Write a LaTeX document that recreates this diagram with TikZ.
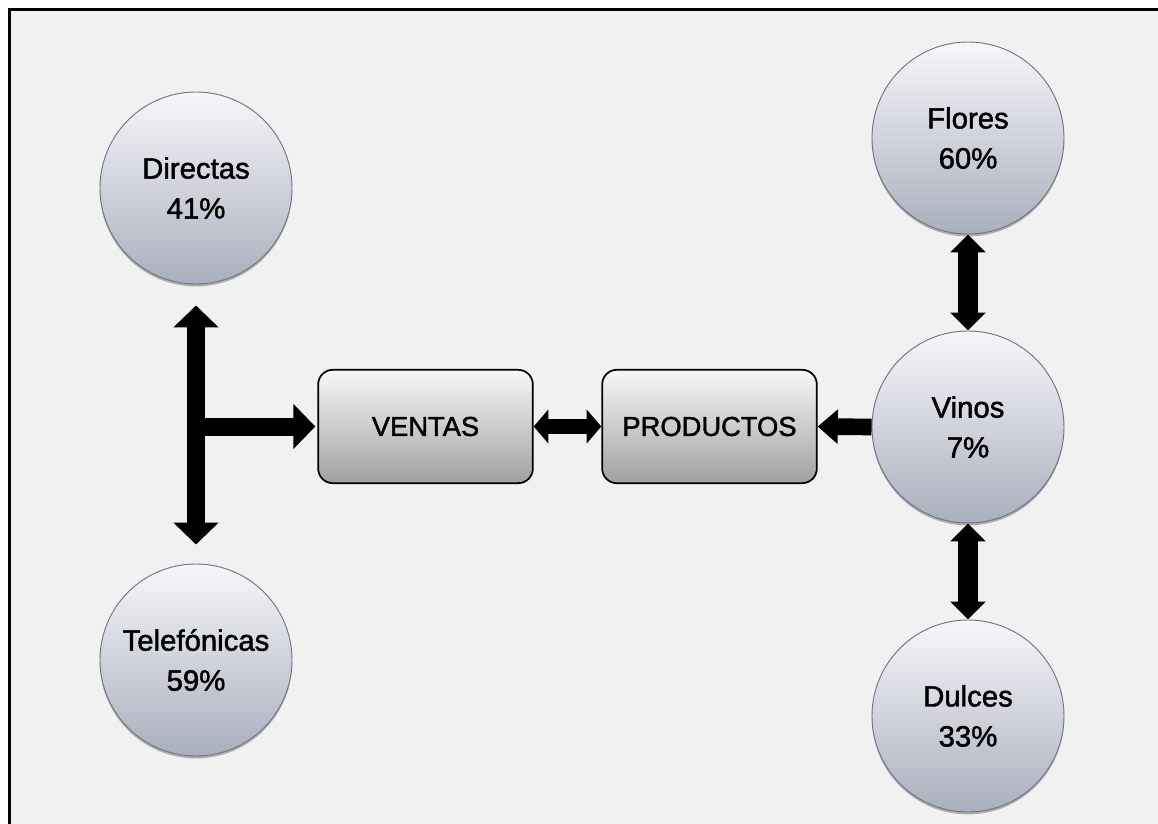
\documentclass[tikz,border=0pt]{standalone}
\usepackage{fontspec}
\setmainfont{Liberation Sans}
\newfontfamily\labelfont{Liberation Sans}[FakeBold=1.6]
\usetikzlibrary{arrows.meta,shadows}
\definecolor{pagebg}{HTML}{F1F1F1}
\definecolor{discTop}{HTML}{F6F7FA}
\definecolor{discBot}{HTML}{AAAFBD}
\definecolor{discRim}{HTML}{70747E}
\definecolor{boxTop}{HTML}{F8F8F8}
\definecolor{boxBot}{HTML}{A0A0A0}

\begin{document}
\begin{tikzpicture}[x=0.75pt,y=-0.75pt,
  disc/.style={circle, minimum size=144pt, inner sep=0pt,
    top color=discTop, bottom color=discBot, draw=discRim, line width=0.7pt,
    drop shadow={shadow xshift=0pt, shadow yshift=-1.8pt, opacity=0.6},
    align=center, font=\labelfont\fontsize{22}{30}\selectfont},
  panel/.style={rounded corners=11pt, minimum width=161pt, minimum height=85pt,
    inner sep=0pt, top color=boxTop, bottom color=boxBot, draw=black,
    line width=1.3pt, font=\labelfont\fontsize{20.5}{24}\selectfont},
  teearrow/.style={line width=13.5pt, -{Triangle[length=16.5pt,width=33pt]}},
  teebar/.style={line width=13.5pt,
    {Triangle[length=16.5pt,width=33pt]}-{Triangle[length=16.5pt,width=33pt]}},
  linkbar/.style={line width=11pt,
    {Triangle[length=11pt,width=25pt]}-{Triangle[length=11pt,width=25pt]}},
  feedarrow/.style={line width=12.5pt, -{Triangle[length=15pt,width=25pt]}},
  stackbar/.style={line width=15pt,
    {Triangle[length=13.5pt,width=26pt]}-{Triangle[length=13.5pt,width=26pt]}}
]
  % page and frame
  \useasboundingbox (0,0) rectangle (1158,824);
  \clip (0,0) rectangle (1158,824);
  \fill[white] (0,0) rectangle (1158,824);
  \fill[pagebg] (9.5,9.5) rectangle (1170,840);
  \draw[black, line width=2.3pt] (9.5,840) -- (9.5,9.5) -- (1170,9.5);

  % sales channels
  \node[disc] (dir) at (196,188) {Directas\\41\%};
  \node[disc] (tel) at (196,660) {Telefónicas\\59\%};

  % products
  \node[disc] (flo) at (968,138) {Flores\\60\%};
  \node[disc] (vin) at (968,427) {Vinos\\7\%};
  \node[disc] (dul) at (968,716) {Dulces\\33\%};

  % central blocks
  \node[panel] (ven) at (425.5,426.5) {VENTAS};
  \node[panel] (pro) at (709.5,426.5) {PRODUCTOS};

  % connectors
  \coordinate (tee) at (dir.south |- ven.west);
  \draw[teebar, shorten <=15.75pt, shorten >=14.25pt] (dir.south) -- (tel.north);
  \draw[teearrow, shorten >=1.5pt] (tee) -- (ven.west);
  \draw[linkbar] (ven.east) -- (pro.west);
  \draw[feedarrow] (vin.west) -- (pro.east);
  \draw[stackbar] (flo.south) -- (vin.north);
  \draw[stackbar] (vin.south) -- (dul.north);
\end{tikzpicture}
\end{document}
